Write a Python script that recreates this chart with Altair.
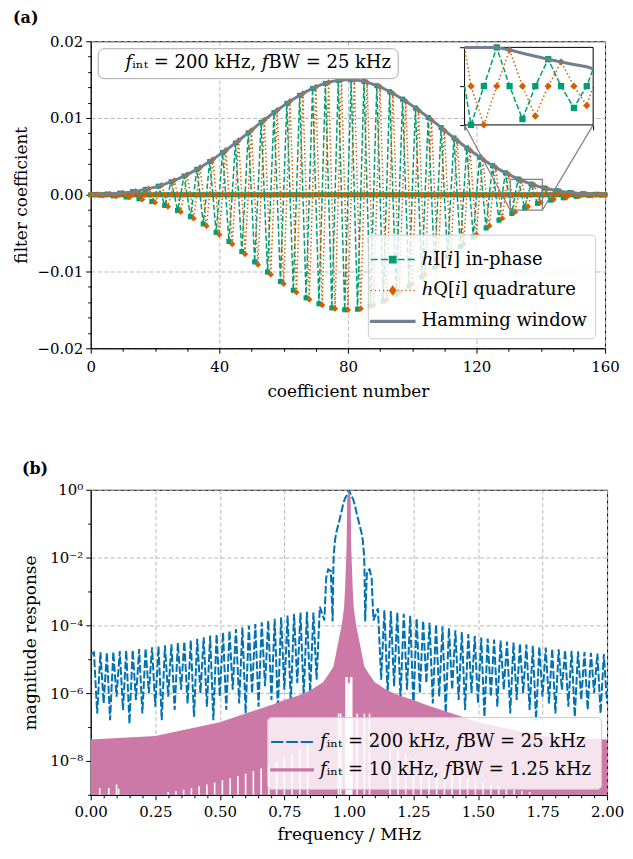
import altair as alt
import pandas as pd

# ------------------------------------------------------------------ data (a)
COEF_INDEX = list(range(161))

WINDOW = [
    0.00002, 0.00003, 0.00004, 0.00005, 0.00007, 0.00009, 0.00011, 0.00014, 0.00017, 0.00021,
    0.00025, 0.00029, 0.00034, 0.00040, 0.00046, 0.00053, 0.00061, 0.00070, 0.00079, 0.00089,
    0.00100, 0.00112, 0.00125, 0.00139, 0.00154, 0.00170, 0.00187, 0.00205, 0.00224, 0.00244,
    0.00265, 0.00286, 0.00308, 0.00331, 0.00355, 0.00380, 0.00406, 0.00433, 0.00461, 0.00490,
    0.00520, 0.00550, 0.00580, 0.00610, 0.00642, 0.00674, 0.00707, 0.00740, 0.00773, 0.00806,
    0.00840, 0.00875, 0.00910, 0.00943, 0.00975, 0.01007, 0.01039, 0.01070, 0.01101, 0.01131,
    0.01161, 0.01190, 0.01218, 0.01245, 0.01271, 0.01296, 0.01320, 0.01343, 0.01365, 0.01385,
    0.01404, 0.01421, 0.01437, 0.01451, 0.01464, 0.01475, 0.01484, 0.01491, 0.01496, 0.01499,
    0.01500,
    0.01499, 0.01496, 0.01491, 0.01484, 0.01475, 0.01464, 0.01451, 0.01437, 0.01421, 0.01404,
    0.01385, 0.01365, 0.01343, 0.01320, 0.01296, 0.01271, 0.01245, 0.01218, 0.01190, 0.01161,
    0.01131, 0.01101, 0.01070, 0.01039, 0.01007, 0.00975, 0.00943, 0.00910, 0.00875, 0.00840,
    0.00806, 0.00773, 0.00740, 0.00707, 0.00674, 0.00642, 0.00610, 0.00580, 0.00550, 0.00520,
    0.00490, 0.00461, 0.00433, 0.00406, 0.00380, 0.00355, 0.00331, 0.00308, 0.00286, 0.00265,
    0.00244, 0.00224, 0.00205, 0.00187, 0.00170, 0.00154, 0.00139, 0.00125, 0.00112, 0.00100,
    0.00089, 0.00079, 0.00070, 0.00061, 0.00053, 0.00046, 0.00040, 0.00034, 0.00029, 0.00025,
    0.00021, 0.00017, 0.00014, 0.00011, 0.00009, 0.00007, 0.00005, 0.00004, 0.00003, 0.00002,
]

H_I = [
    0, 0.00003, 0, -0.00005, 0, 0.00009, 0, -0.00014, 0, 0.00021,
    0, -0.00029, 0, 0.00040, 0, -0.00053, 0, 0.00070, 0, -0.00089,
    0, 0.00112, 0, -0.00139, 0, 0.00170, 0, -0.00205, 0, 0.00244,
    0, -0.00286, 0, 0.00331, 0, -0.00380, 0, 0.00433, 0, -0.00490,
    0, 0.00550, 0, -0.00610, 0, 0.00674, 0, -0.00740, 0, 0.00806,
    0, -0.00875, 0, 0.00943, 0, -0.01007, 0, 0.01070, 0, -0.01131,
    0, 0.01190, 0, -0.01245, 0, 0.01296, 0, -0.01343, 0, 0.01385,
    0, -0.01421, 0, 0.01451, 0, -0.01475, 0, 0.01491, 0, -0.01499,
    0,
    0.01499, 0, -0.01491, 0, 0.01475, 0, -0.01451, 0, 0.01421, 0,
    -0.01385, 0, 0.01343, 0, -0.01296, 0, 0.01245, 0, -0.01190, 0,
    0.01131, 0, -0.01070, 0, 0.01007, 0, -0.00943, 0, 0.00875, 0,
    -0.00806, 0, 0.00740, 0, -0.00674, 0, 0.00610, 0, -0.00550, 0,
    0.00490, 0, -0.00433, 0, 0.00380, 0, -0.00331, 0, 0.00286, 0,
    -0.00244, 0, 0.00205, 0, -0.00170, 0, 0.00139, 0, -0.00112, 0,
    0.00089, 0, -0.00070, 0, 0.00053, 0, -0.00040, 0, 0.00029, 0,
    -0.00021, 0, 0.00014, 0, -0.00009, 0, 0.00005, 0, -0.00003, 0,
]

H_Q = [
    -0.00002, 0, 0.00004, 0, -0.00007, 0, 0.00011, 0, -0.00017, 0,
    0.00025, 0, -0.00034, 0, 0.00046, 0, -0.00061, 0, 0.00079, 0,
    -0.00100, 0, 0.00125, 0, -0.00154, 0, 0.00187, 0, -0.00224, 0,
    0.00265, 0, -0.00308, 0, 0.00355, 0, -0.00406, 0, 0.00461, 0,
    -0.00520, 0, 0.00580, 0, -0.00642, 0, 0.00707, 0, -0.00773, 0,
    0.00840, 0, -0.00910, 0, 0.00975, 0, -0.01039, 0, 0.01101, 0,
    -0.01161, 0, 0.01218, 0, -0.01271, 0, 0.01320, 0, -0.01365, 0,
    0.01404, 0, -0.01437, 0, 0.01464, 0, -0.01484, 0, 0.01496, 0,
    -0.01500,
    0, 0.01496, 0, -0.01484, 0, 0.01464, 0, -0.01437, 0, 0.01404,
    0, -0.01365, 0, 0.01320, 0, -0.01271, 0, 0.01218, 0, -0.01161,
    0, 0.01101, 0, -0.01039, 0, 0.00975, 0, -0.00910, 0, 0.00840,
    0, -0.00773, 0, 0.00707, 0, -0.00642, 0, 0.00580, 0, -0.00520,
    0, 0.00461, 0, -0.00406, 0, 0.00355, 0, -0.00308, 0, 0.00265,
    0, -0.00224, 0, 0.00187, 0, -0.00154, 0, 0.00125, 0, -0.00100,
    0, 0.00079, 0, -0.00061, 0, 0.00046, 0, -0.00034, 0, 0.00025,
    0, -0.00017, 0, 0.00011, 0, -0.00007, 0, 0.00004, 0, -0.00002,
]

LABELS_A = ["ℎI[𝑖] in-phase", "ℎQ[𝑖] quadrature", "Hamming window"]
NOTE_A = "𝑓ᵢₙₜ = 200 kHz, 𝑓BW = 25 kHz"

# zoomed region and where the inset sits (in the main panel's data units)
INSET_XLIM = [130.5, 140.5]
INSET_YLIM = [-0.002, 0.002]
INSET_BOX_X = [116.3, 156.3]
INSET_BOX_Y = [0.0091, 0.0192]

# ------------------------------------------------------------------ data (b)
BLUE = [
    (0.0, 1.4e-5), (0.0125, 1.58e-5), (0.025, 2.5e-7), (0.0375, 1.62e-5), (0.05, 5.0e-7),
    (0.0625, 1.58e-5), (0.075, 1.6e-7), (0.0875, 1.66e-5), (0.1, 7.9e-7), (0.1125, 1.74e-5),
    (0.125, 3.2e-7), (0.1375, 1.82e-5), (0.15, 1.26e-7), (0.1625, 1.86e-5), (0.175, 6.3e-7),
    (0.1875, 2.0e-5), (0.2, 2.5e-7), (0.2125, 2.09e-5), (0.225, 1.0e-6), (0.2375, 2.24e-5),
    (0.25, 4.0e-7), (0.2625, 2.40e-5), (0.275, 1.6e-7), (0.2875, 2.57e-5), (0.3, 7.9e-7),
    (0.3125, 2.75e-5), (0.325, 3.2e-7), (0.3375, 3.02e-5), (0.35, 1.26e-6), (0.3625, 3.31e-5),
    (0.375, 5.0e-7), (0.3875, 3.63e-5), (0.4, 2.0e-7), (0.4125, 3.98e-5), (0.425, 1.0e-6),
    (0.4375, 4.47e-5), (0.45, 4.0e-7), (0.4625, 5.01e-5), (0.475, 1.6e-7), (0.4875, 5.50e-5),
    (0.5, 7.9e-7), (0.5125, 6.17e-5), (0.525, 3.2e-7), (0.5375, 6.92e-5), (0.55, 1.26e-6),
    (0.5625, 7.76e-5), (0.575, 5.0e-7), (0.5875, 8.71e-5), (0.6, 2.5e-7), (0.6125, 9.77e-5),
    (0.625, 1.0e-6), (0.6375, 1.10e-4), (0.65, 4.0e-7), (0.6625, 1.23e-4), (0.675, 1.6e-6),
    (0.6875, 1.38e-4), (0.7, 6.3e-7), (0.7125, 1.55e-4), (0.725, 3.2e-7), (0.7375, 1.74e-4),
    (0.75, 1.26e-6), (0.7625, 1.95e-4), (0.775, 5.0e-7), (0.7875, 2.19e-4), (0.8, 2.0e-6),
    (0.8125, 2.40e-4), (0.825, 7.9e-7), (0.8375, 2.51e-4), (0.85, 1.0e-6), (0.8625, 2.40e-4),
    (0.875, 2.5e-6), (0.8875, 3.55e-4), (0.905, 1.4e-4), (0.912, 2.5e-3), (0.92, 4.5e-3),
    (0.93, 4.0e-3), (0.937, 1.3e-4), (0.94, 6.3e-3), (0.942, 1.41e-2), (0.946, 3.16e-2),
    (0.951, 5.37e-2), (0.96, 0.1), (0.97, 0.204), (0.977, 0.355), (0.983, 0.513),
    (0.992, 0.708), (1.0, 1.0), (1.008, 0.708), (1.017, 0.513), (1.023, 0.355),
    (1.03, 0.204), (1.04, 0.1), (1.049, 5.37e-2), (1.054, 3.16e-2), (1.058, 1.41e-2),
    (1.06, 6.3e-3), (1.063, 1.3e-4), (1.07, 4.0e-3), (1.08, 4.5e-3), (1.088, 2.5e-3),
    (1.095, 1.4e-4), (1.1125, 3.16e-4), (1.125, 2.5e-6), (1.1375, 2.82e-4), (1.15, 1.0e-6),
    (1.1625, 2.63e-4), (1.175, 1.6e-6), (1.1875, 2.40e-4), (1.2, 6.3e-7), (1.2125, 2.19e-4),
    (1.225, 1.26e-6), (1.2375, 1.91e-4), (1.25, 4.0e-7), (1.2625, 1.58e-4), (1.275, 1.0e-6),
    (1.2875, 1.38e-4), (1.3, 2.0e-6), (1.3125, 1.20e-4), (1.325, 5.0e-7), (1.3375, 1.07e-4),
    (1.35, 7.9e-7), (1.3625, 9.3e-5), (1.375, 2.5e-7), (1.3875, 8.3e-5), (1.4, 1.26e-6),
    (1.4125, 7.2e-5), (1.425, 6.3e-7), (1.4375, 6.3e-5), (1.45, 3.2e-7), (1.4625, 5.5e-5),
    (1.475, 1.0e-6), (1.4875, 4.8e-5), (1.5, 5.0e-7), (1.5125, 4.4e-5), (1.525, 2.0e-7),
    (1.5375, 4.1e-5), (1.55, 7.9e-7), (1.5625, 3.8e-5), (1.575, 4.0e-7), (1.5875, 3.55e-5),
    (1.6, 1.26e-6), (1.6125, 3.3e-5), (1.625, 2.5e-7), (1.6375, 3.1e-5), (1.65, 6.3e-7),
    (1.6625, 2.9e-5), (1.675, 1.0e-6), (1.6875, 2.7e-5), (1.7, 3.2e-7), (1.7125, 2.5e-5),
    (1.725, 1.6e-7), (1.7375, 2.35e-5), (1.75, 7.9e-7), (1.7625, 2.2e-5), (1.775, 5.0e-7),
    (1.7875, 2.05e-5), (1.8, 2.5e-7), (1.8125, 1.95e-5), (1.825, 1.26e-6), (1.8375, 1.86e-5),
    (1.85, 4.0e-7), (1.8625, 1.78e-5), (1.875, 2.0e-7), (1.8875, 1.70e-5), (1.9, 6.3e-7),
    (1.9125, 1.62e-5), (1.925, 3.2e-7), (1.9375, 1.55e-5), (1.95, 1.0e-6), (1.9625, 1.48e-5),
    (1.975, 2.5e-7), (1.9875, 1.41e-5), (2.0, 5.0e-7),
]

PINK = [
    (0.0, 4.3e-8), (0.25, 5.4e-8), (0.5, 1.38e-7), (0.6, 2.5e-7), (0.7, 4.5e-7),
    (0.75, 6.3e-7), (0.8, 8.3e-7), (0.85, 1.2e-6), (0.9, 2.1e-6), (0.92, 3.5e-6),
    (0.94, 6.0e-6), (0.956, 2.5e-5), (0.972, 1.0e-4), (0.981, 3.2e-4), (0.985, 1.1e-3),
    (0.991, 2.0e-2), (0.9935, 0.6), (1.0, 1.0), (1.0065, 0.6), (1.009, 2.0e-2),
    (1.015, 1.1e-3), (1.019, 3.2e-4), (1.028, 1.0e-4), (1.044, 2.5e-5), (1.06, 6.0e-6),
    (1.08, 3.5e-6), (1.1, 2.1e-6), (1.15, 1.2e-6), (1.2, 8.3e-7), (1.25, 6.3e-7),
    (1.3, 4.5e-7), (1.4, 2.5e-7), (1.5, 1.38e-7), (1.75, 5.4e-8), (2.0, 4.3e-8),
]

PINK_GAPS = [
    (0.035, 1.6e-9), (0.07, 1.6e-9), (0.1, 2.0e-9), (0.108, 1.5e-9), (0.3, 1.2e-9),
    (0.33, 1.3e-9), (0.36, 1.4e-9), (0.39, 1.6e-9), (0.42, 1.8e-9), (0.45, 2.0e-9),
    (0.48, 2.3e-9), (0.51, 2.7e-9), (0.54, 3.1e-9), (0.57, 3.6e-9), (0.6, 4.2e-9),
    (0.63, 5.0e-9), (0.66, 6.0e-9), (0.69, 7.5e-9), (0.72, 9.5e-9), (0.75, 1.2e-8),
    (0.78, 1.6e-8), (0.81, 2.2e-8), (0.84, 3.0e-8),
    (0.96, 2.5e-7), (0.968, 2.5e-7), (0.989, 3e-6), (0.993, 3e-6), (0.997, 2e-6),
    (1.003, 2e-6), (1.007, 3e-6), (1.011, 3e-6), (1.032, 2.5e-7), (1.06, 2.5e-7), (1.08, 2.5e-7),
    (1.16, 3.0e-8), (1.19, 2.2e-8), (1.22, 1.6e-8), (1.25, 1.2e-8), (1.28, 9.5e-9),
    (1.31, 7.5e-9), (1.34, 6.0e-9), (1.37, 5.0e-9), (1.4, 4.2e-9), (1.43, 3.6e-9),
    (1.46, 3.1e-9), (1.49, 2.7e-9), (1.52, 2.3e-9), (1.55, 2.0e-9), (1.58, 1.8e-9),
    (1.61, 1.6e-9), (1.64, 1.4e-9), (1.67, 1.3e-9), (1.7, 1.2e-9),
]

LABELS_B = ["𝑓ᵢₙₜ = 200 kHz, 𝑓BW = 25 kHz", "𝑓ᵢₙₜ = 10 kHz, 𝑓BW = 1.25 kHz"]

# ------------------------------------------------------------------ style
FONT = "DejaVu Serif"
GREEN, ORANGE, GRAY = "#009E73", "#D55E00", "#708090"
BLUE_C, PINK_C = "#0072B2", "#CC79A7"
WA, HA = 516, 308
WB, HB = 518, 306

SYM_HI = ("M-1.4,0H-0.95M-0.75,0H-0.3M0.3,0H0.75M0.95,0H1.4"
          "M-0.2,-0.2H0.2V0.2H-0.2Z")
SYM_HQ = ("M-1.4,0H-1.32M-1.14,0H-1.06M-0.88,0H-0.8M-0.62,0H-0.54M-0.36,0H-0.28"
          "M0.28,0H0.36M0.54,0H0.62M0.8,0H0.88M1.06,0H1.14M1.32,0H1.4"
          "M0,-0.26L0.19,0L0,0.26L-0.19,0Z")
SYM_WIN = "M-1.4,-0.06H1.4V0.06H-1.4Z"
SYM_BLUE = "M-1.5,0H-0.62M-0.42,0H0.42M0.62,0H1.5"
SYM_PINK = "M-1.5,-0.04H1.5V0.04H-1.5Z"

# ------------------------------------------------------------------ panel (a)
df_a = pd.DataFrame({"i": COEF_INDEX, "hI": H_I, "hQ": H_Q, "w": WINDOW})

minor_x_a = "datum.value % 40 != 0"
axis_xa = alt.Axis(
    values=list(range(0, 161, 10)),
    labelExpr=f"{minor_x_a} ? '' : datum.label",
    tickSize={"condition": {"test": minor_x_a, "value": 3}, "value": 5},
    gridOpacity={"condition": {"test": minor_x_a, "value": 0}, "value": 1},
    labelFlush=False, labelOverlap=False, titlePadding=9, labelPadding=6,
)
minor_y_a = "abs(datum.value*100 - round(datum.value*100)) > 0.01"
axis_ya = alt.Axis(
    values=[round(-0.02 + 0.002 * k, 3) for k in range(21)],
    labelExpr=f"{minor_y_a} ? '' : replace(format(datum.value, '.2f'), '-', '\u2212')",
    tickSize={"condition": {"test": minor_y_a, "value": 3}, "value": 5},
    gridOpacity={"condition": {"test": minor_y_a, "value": 0}, "value": 1},
    labelFlush=False, labelOverlap=False, titlePadding=6, labelPadding=3,
)
xs_a = alt.Scale(domain=[0, 160], nice=False, zero=False)
ys_a = alt.Scale(domain=[-0.02, 0.02], nice=False)


def xa(field):
    return alt.X(f"{field}:Q", scale=xs_a, axis=axis_xa, title="coefficient number")


def ya(field):
    return alt.Y(f"{field}:Q", scale=ys_a, axis=axis_ya, title="filter coefficient")


base_a = alt.Chart(df_a)
hi_line = base_a.mark_line(color=GREEN, strokeWidth=1.5, strokeDash=[5.5, 2.4]).encode(x=xa("i"), y=ya("hI"))
hi_pts = base_a.mark_point(shape="square", filled=True, color=GREEN, size=26, opacity=1).encode(x=xa("i"), y=ya("hI"))
hq_line = base_a.mark_line(color=ORANGE, strokeWidth=1.5, strokeDash=[1.5, 2.5]).encode(x=xa("i"), y=ya("hQ"))
hq_pts = base_a.mark_point(shape="diamond", filled=True, color=ORANGE, size=40, opacity=1).encode(x=xa("i"), y=ya("hQ"))
win_line = base_a.mark_line(color=GRAY, strokeWidth=3).encode(x=xa("i"), y=ya("w"))

zoom_df = pd.DataFrame({"x1": [INSET_XLIM[0]], "x2": [INSET_XLIM[1]],
                        "y1": [INSET_YLIM[0]], "y2": [INSET_YLIM[1]]})
zoom_rect = alt.Chart(zoom_df).mark_rect(fillOpacity=0, stroke="#808080", strokeWidth=1.2).encode(
    x=xa("x1"), x2="x2", y=ya("y1"), y2="y2")

conn_df = pd.DataFrame({"x1": INSET_XLIM, "y1": [INSET_YLIM[0]] * 2,
                        "x2": INSET_BOX_X, "y2": [INSET_BOX_Y[0]] * 2})
connectors = alt.Chart(conn_df).mark_rule(color="#808080", strokeWidth=1.2).encode(
    x=xa("x1"), x2="x2", y=ya("y1"), y2="y2")

leg_a = alt.Legend(
    title=None, orient="bottom-right", offset=10, padding=8, cornerRadius=4,
    fillColor="rgba(255,255,255,0.8)", strokeColor="#cccccc", labelFontSize=18,
    labelFont=FONT, symbolSize=1000, symbolStrokeWidth=1.5, labelOffset=12, labelLimit=400,
    rowPadding=5,
)
leg_df_a = pd.DataFrame({"series": LABELS_A, "i": [-50] * 3, "v": [0] * 3})
legend_layer_a = alt.Chart(leg_df_a).mark_point(filled=True, clip=True, strokeWidth=1.5, opacity=1).encode(
    x=xa("i"), y=ya("v"),
    fill=alt.Fill("series:N", scale=alt.Scale(domain=LABELS_A, range=[GREEN, ORANGE, GRAY]), legend=leg_a),
    stroke=alt.Stroke("series:N", scale=alt.Scale(domain=LABELS_A, range=[GREEN, ORANGE, GRAY]), legend=leg_a),
    shape=alt.Shape("series:N", scale=alt.Scale(domain=LABELS_A, range=[SYM_HI, SYM_HQ, SYM_WIN]), legend=leg_a),
)

note_df = pd.DataFrame({"note": [NOTE_A], "i": [-50], "v": [0]})
note_layer = alt.Chart(note_df).mark_point(clip=True).encode(
    x=xa("i"), y=ya("v"),
    color=alt.Color("note:N", scale=alt.Scale(domain=[NOTE_A], range=["rgba(0,0,0,0)"]), legend=alt.Legend(
        title=None, orient="top-left", offset=7, padding=6, cornerRadius=6, fillColor="white",
        strokeColor="#aaaaaa", labelFontSize=18, labelFont=FONT, symbolSize=1, labelOffset=4,
        labelLimit=400, symbolStrokeWidth=0)),
)

main_a = alt.layer(hi_line, hi_pts, hq_line, hq_pts, win_line, zoom_rect, connectors,
                   legend_layer_a, note_layer)

# inset
px0 = INSET_BOX_X[0] / 160 * WA
px1 = INSET_BOX_X[1] / 160 * WA
py_top = (0.02 - INSET_BOX_Y[1]) / 0.04 * HA
py_bot = (0.02 - INSET_BOX_Y[0]) / 0.04 * HA

ix_scale = alt.Scale(domain=INSET_XLIM, range=[px0, px1], clamp=True, nice=False, zero=False)
iy_scale = alt.Scale(domain=INSET_YLIM, range=[py_bot, py_top], clamp=True, nice=False, zero=False)
ix_axis = alt.Axis(orient="bottom", offset=-(HA - py_bot), values=INSET_XLIM, labels=False,
                   grid=False, domain=False, tickSize=5, title=None)
iy_axis = alt.Axis(orient="left", offset=-px0, values=[INSET_YLIM[0], 0, INSET_YLIM[1]], labels=False,
                   grid=False, domain=False, tickSize=5, title=None)


def ixa(field):
    return alt.X(f"{field}:Q", scale=ix_scale, axis=ix_axis)


def iya(field):
    return alt.Y(f"{field}:Q", scale=iy_scale, axis=iy_axis)


df_in = df_a[(df_a["i"] >= 130) & (df_a["i"] <= 141)]
base_in = alt.Chart(df_in)
inset_frame = alt.Chart(zoom_df).mark_rect(fill="white", stroke="black", strokeWidth=1).encode(
    x=ixa("x1"), x2="x2", y=iya("y1"), y2="y2")
in_hi_line = base_in.mark_line(color=GREEN, strokeWidth=1.5, strokeDash=[5.5, 2.4]).encode(x=ixa("i"), y=iya("hI"))
in_hi_pts = base_in.transform_filter("datum.i > 130.5 && datum.i < 140.5").mark_point(
    shape="square", filled=True, color=GREEN, size=40, opacity=1).encode(x=ixa("i"), y=iya("hI"))
in_hq_line = base_in.mark_line(color=ORANGE, strokeWidth=1.5, strokeDash=[1.5, 2.5]).encode(x=ixa("i"), y=iya("hQ"))
in_hq_pts = base_in.transform_filter("datum.i > 130.5 && datum.i < 140.5").mark_point(
    shape="diamond", filled=True, color=ORANGE, size=55, opacity=1).encode(x=ixa("i"), y=iya("hQ"))
in_win = base_in.mark_line(color=GRAY, strokeWidth=3).encode(x=ixa("i"), y=iya("w"))
inset_a = alt.layer(inset_frame, in_hi_line, in_hi_pts, in_hq_line, in_hq_pts, in_win)

panel_a = alt.layer(main_a, inset_a).resolve_scale(x="independent", y="independent").properties(
    width=WA, height=HA,
    title=alt.Title("(a)", anchor="start", frame="bounds", fontSize=16, fontWeight="bold",
                    font=FONT, offset=6, dy=-2),
)

# ------------------------------------------------------------------ panel (b)
blue_df = pd.DataFrame(BLUE, columns=["f", "m"])
pink_df = pd.DataFrame(PINK, columns=["f", "m"])
gap_df = pd.DataFrame(PINK_GAPS, columns=["f", "m"])

minor_x_b = "abs(datum.value*4 - round(datum.value*4)) > 0.01"
axis_xb = alt.Axis(
    values=[round(0.05 * k, 2) for k in range(41)],
    labelExpr=f"{minor_x_b} ? '' : format(datum.value, '.2f')",
    tickSize={"condition": {"test": minor_x_b, "value": 3}, "value": 5},
    gridOpacity={"condition": {"test": minor_x_b, "value": 0}, "value": 1},
    labelFlush=False, labelOverlap=False, titlePadding=7, labelPadding=5,
)
minor_y_b = "abs(round(log(datum.value)/LN10)) % 2 == 1"
axis_yb = alt.Axis(
    values=[1e-9, 1e-8, 1e-7, 1e-6, 1e-5, 1e-4, 1e-3, 1e-2, 1e-1, 1.0],
    labelExpr=(f"{minor_y_b} ? '' : (datum.value > 0.5 ? '10⁰' : datum.value > 5e-3 ? '10⁻²' : "
               "datum.value > 5e-5 ? '10⁻⁴' : datum.value > 5e-7 ? '10⁻⁶' : '10⁻⁸')"),
    tickSize={"condition": {"test": minor_y_b, "value": 3}, "value": 5},
    gridOpacity={"condition": {"test": minor_y_b, "value": 0}, "value": 1},
    labelFlush=False, labelOverlap=False, titlePadding=10, labelPadding=3,
)
xs_b = alt.Scale(domain=[0, 2], nice=False, zero=False)
ys_b = alt.Scale(type="log", domain=[1e-9, 1], nice=False)


def xb(field):
    return alt.X(f"{field}:Q", scale=xs_b, axis=axis_xb, title="frequency / MHz")


def yb(field):
    return alt.Y(f"{field}:Q", scale=ys_b, axis=axis_yb, title="magnitude response")


blue_line = alt.Chart(blue_df).mark_line(color=BLUE_C, strokeWidth=2, strokeDash=[8, 2.5], clip=True).encode(
    x=xb("f"), y=yb("m"))
pink_area = alt.Chart(pink_df).mark_area(color=PINK_C, opacity=1, clip=True).encode(
    x=xb("f"), y=yb("m"), y2=alt.datum(1e-9))
pink_gaps = alt.Chart(gap_df).mark_rule(color="white", strokeWidth=1.6, clip=True).encode(
    x=xb("f"), y=yb("m"), y2=alt.datum(1e-9))

leg_b = alt.Legend(
    title=None, orient="bottom-right", offset=6, padding=10, cornerRadius=4,
    fillColor="rgba(255,255,255,0.8)", strokeColor="#cccccc", labelFontSize=18,
    labelFont=FONT, symbolSize=784, symbolStrokeWidth=2, labelOffset=13, labelLimit=400,
    rowPadding=4,
)
leg_df_b = pd.DataFrame({"series": LABELS_B, "f": [-1.0] * 2, "m": [1e-5] * 2})
legend_layer_b = alt.Chart(leg_df_b).mark_point(filled=True, clip=True, strokeWidth=2, opacity=1).encode(
    x=xb("f"), y=yb("m"),
    fill=alt.Fill("series:N", scale=alt.Scale(domain=LABELS_B, range=[BLUE_C, PINK_C]), legend=leg_b),
    stroke=alt.Stroke("series:N", scale=alt.Scale(domain=LABELS_B, range=[BLUE_C, PINK_C]), legend=leg_b),
    shape=alt.Shape("series:N", scale=alt.Scale(domain=LABELS_B, range=[SYM_BLUE, SYM_PINK]), legend=leg_b),
)

panel_b = alt.layer(blue_line, pink_area, pink_gaps, legend_layer_b).properties(
    width=WB, height=HB,
    title=alt.Title("(b)", anchor="start", frame="bounds", fontSize=16, fontWeight="bold",
                    font=FONT, offset=6),
)

chart = alt.vconcat(panel_a, panel_b, spacing=60).resolve_scale(
    fill="independent", stroke="independent", shape="independent", color="independent"
).resolve_legend(
    fill="independent", stroke="independent", shape="independent", color="independent"
).configure(
    padding={"left": 4, "top": 0, "right": 0, "bottom": 0}
).configure_view(stroke="black", strokeWidth=1).configure_axis(
    labelFont=FONT, titleFont=FONT, labelFontSize=15, titleFontSize=17, titleFontWeight="normal",
    labelColor="black", titleColor="black", domainColor="black", tickColor="black",
    gridColor="#b0b0b0", gridDash=[4, 2.5], gridWidth=0.9,
).configure_legend(labelFont=FONT, labelColor="black")

chart.save("out.html", embed_options={"renderer": "svg", "actions": False})
